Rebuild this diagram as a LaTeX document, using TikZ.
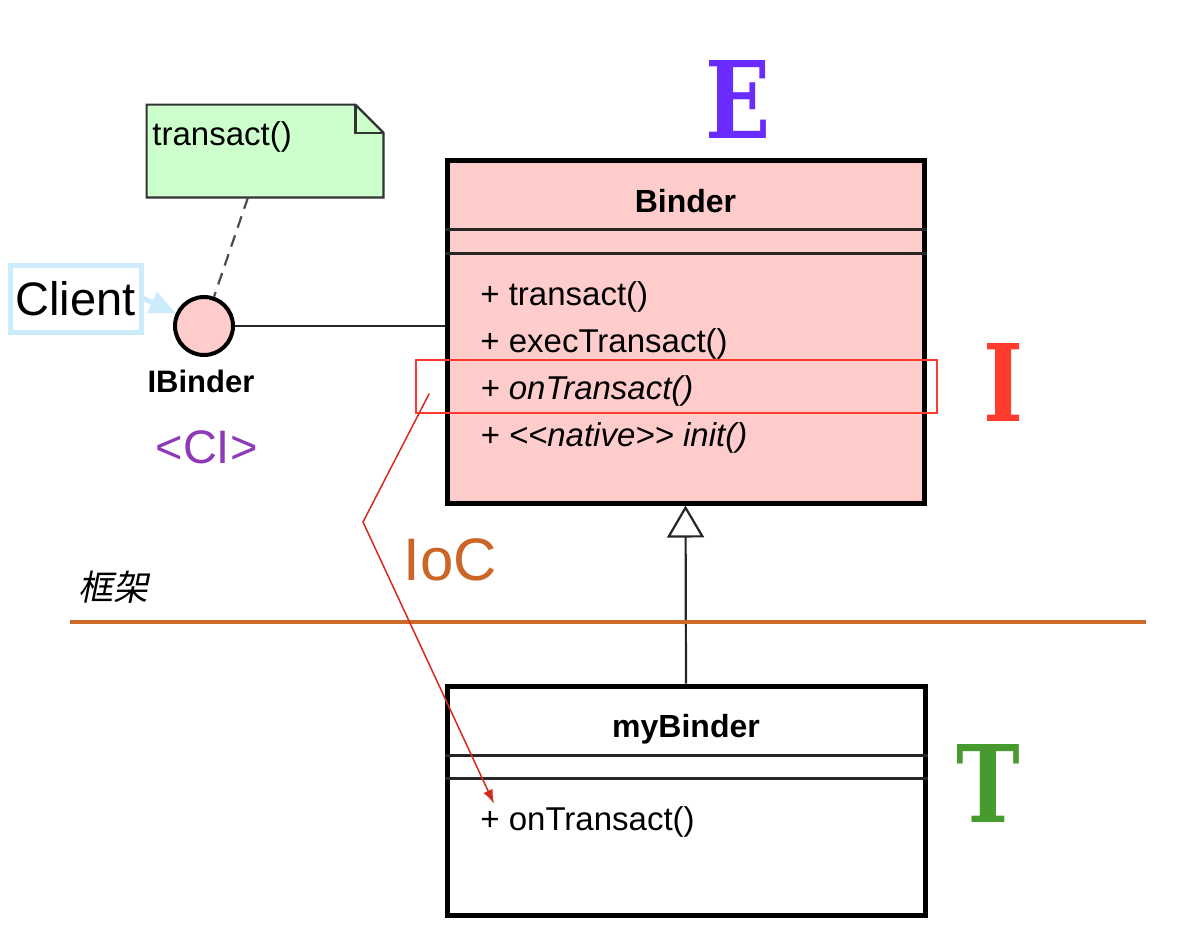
\documentclass[tikz,border=0pt]{standalone}
\usepackage{fontspec}
\setmainfont{Liberation Sans}
\newfontfamily\cjkfont[FakeSlant=0.2]{Noto Sans CJK SC}
\newfontfamily\bigserif{DejaVu Serif}
\usetikzlibrary{arrows.meta,calc}
\definecolor{notegreen}{HTML}{CCFFCC}
\definecolor{pinkfill}{HTML}{FFCCCC}
\definecolor{clientblue}{HTML}{CDECFB}
\definecolor{cipurple}{HTML}{8E3AB8}
\definecolor{epurple}{HTML}{6A2BFF}
\definecolor{ired}{HTML}{FF3B2E}
\definecolor{tgreen}{HTML}{479A2E}
\definecolor{iocorange}{HTML}{CC6627}
\definecolor{lineorange}{HTML}{CD6A2A}
\definecolor{hlred}{HTML}{FF3B30}
\definecolor{arrowred}{HTML}{D42A20}
\tikzset{
  umltext/.style={inner sep=0pt, font=\fontsize{16.5}{18}\selectfont},
  umlital/.style={inner sep=0pt, font=\itshape\fontsize{16.5}{18}\selectfont},
  umlbold/.style={inner sep=0pt, font=\bfseries\fontsize{16}{18}\selectfont},
  classbox/.style={draw=black, line width=2.5pt, inner sep=0pt},
  compline/.style={line width=1.1pt, draw=black!85},
  bigletter/.style={inner sep=0pt, font=\bigserif\bfseries\fontsize{53.5}{55}\selectfont, xscale=0.8},
}
\begin{document}
\begin{tikzpicture}[x=0.5pt,y=-0.5pt]
\useasboundingbox (0,0) rectangle (1186,928);
\fill[white] (0,0) rectangle (1186,928);

% note
\node[inner sep=0pt, minimum width=118pt, minimum height=46pt] (note) at (265,151) {};
\draw[fill=notegreen, draw=black!80, line width=1.1pt]
  (note.north west) -- ([xshift=-14pt]note.north east) -- ([yshift=-14pt]note.north east)
  -- (note.south east) -- (note.south west) -- cycle;
\draw[draw=black!80, line width=1.1pt] ([xshift=-14pt]note.north east) |- ([yshift=-14pt]note.north east);
\node[umltext, anchor=base west] (notetext) at (152,145) {transact()};

% interface lollipop
\node[circle, draw=black, line width=2pt, fill=pinkfill, minimum size=29pt, inner sep=0pt] (ibinder) at (204,326) {};
\node[umlbold, anchor=base, font=\bfseries\fontsize{15.5}{17}\selectfont] (iblabel) at (201,392) {IBinder};
\draw[draw=black!70, line width=1.1pt, dash pattern=on 6pt off 4pt] ([xshift=-8.5pt]note.south) -- (ibinder);

% client
\node[draw=clientblue, line width=2.5pt, minimum width=65.5pt, minimum height=33.5pt, inner sep=0pt,
      font=\fontsize{23.5}{25}\selectfont] (client) at (75.5,298.5) {Client};
\draw[clientblue, line width=2.5pt, -{Triangle[length=13pt,width=11pt]}] (client.east) -- (ibinder);

\node[anchor=base, inner sep=0pt, text=cipurple, font=\fontsize{23.5}{25}\selectfont] (ci) at (206.5,463) {<CI>};

% Binder class
\node[classbox, fill=pinkfill, minimum width=238.5pt, minimum height=171.5pt] (binder) at (685.5,331.5) {};
\draw[compline] ([yshift=-36pt]binder.north west) -- ([yshift=-36pt]binder.north east);
\draw[compline] ([yshift=-48pt]binder.north west) -- ([yshift=-48pt]binder.north east);
\node[umlbold, anchor=base] (bname) at (685.5,212) {Binder};
\node[umltext, anchor=base west] (op1) at (480,305) {+ transact()};
\node[umltext, anchor=base west] (op2) at (480,352) {+ execTransact()};
\node[umlital, anchor=base west] (op3) at (480,399) {+ onTransact()};
\node[umlital, anchor=base west] (op4) at (480,446) {+ <{}<native>{}> init()};
\draw[line width=1.25pt, black!85] (ibinder.east) -- (ibinder.east -| binder.west);

% highlight
\node[draw=hlred, line width=0.75pt, minimum width=260.5pt, minimum height=26.5pt, inner sep=0pt] (hl) at (676.5,386.5) {};

% myBinder
\node[classbox, fill=white, minimum width=239pt, minimum height=114.5pt] (mybinder) at (686,800.5) {};
\draw[compline] ([yshift=-36pt]mybinder.north west) -- ([yshift=-36pt]mybinder.north east);
\draw[compline] ([yshift=-47.5pt]mybinder.north west) -- ([yshift=-47.5pt]mybinder.north east);
\node[umlbold, anchor=base] (myname) at (686,737) {myBinder};
\node[umltext, anchor=base west] (myop) at (480,830) {+ onTransact()};

% generalization
\draw[line width=1.1pt, black!85, -{Triangle[open, fill=white, length=16pt, width=18.5pt]}] (mybinder.north) -- (binder.south);

% framework line
\coordinate (fl) at (70,622);
\coordinate (fr) at (1146,622);
\draw[lineorange, line width=2pt] (fl) -- (fr);
\node[anchor=base west, inner sep=0pt, font=\cjkfont\fontsize{17.5}{19}\selectfont] (kj) at (78,600) {框架};

% IoC
\node[anchor=base west, inner sep=0pt, text=iocorange, font=\fontsize{30}{32}\selectfont] (ioc) at (403,580) {IoC};
\coordinate (iocstart) at ([xshift=7pt,yshift=-3.5pt]hl.west);
\coordinate (iocbend) at (363,522);
\draw[arrowred, line width=0.75pt, -{Latex[length=7pt,width=5pt]}] (iocstart) -- (iocbend) -- ([xshift=7pt,yshift=1pt]myop.north west);

% letters
\node[bigletter, anchor=base, text=epurple] (E) at (738,138) {E};
\node[bigletter, anchor=base, text=ired] (I) at (1003,421) {I};
\node[bigletter, anchor=base, text=tgreen] (T) at (988,822) {T};
\end{tikzpicture}
\end{document}
